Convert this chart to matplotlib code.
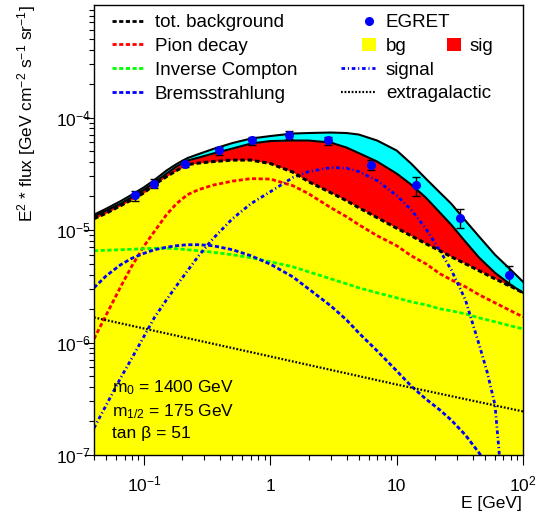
import numpy as np

import matplotlib
matplotlib.use("Agg")  # headless
import matplotlib.pyplot as plt
from matplotlib.lines import Line2D
from matplotlib.patches import Patch
from matplotlib.ticker import LogLocator, FuncFormatter, NullFormatter

plt.rcParams["font.family"] = ["Liberation Sans", "DejaVu Sans"]
plt.rcParams["mathtext.fontset"] = "custom"
plt.rcParams["mathtext.rm"] = "Liberation Sans"
plt.rcParams["mathtext.it"] = "Liberation Sans:italic"
plt.rcParams["mathtext.bf"] = "Liberation Sans:bold"
plt.rcParams["mathtext.default"] = "regular"

# --- values (E in GeV, E^2*flux in GeV cm^-2 s^-1 sr^-1)
energy = [0.04, 0.05, 0.065, 0.08, 0.1, 0.12, 0.15, 0.18, 0.22, 0.27, 0.35, 0.5,
          0.7, 1, 1.5, 2, 3, 4, 5, 7, 10, 13, 17, 22, 27, 35, 45, 60, 80, 100]
tot_bg = [1.261e-5, 1.411e-5, 1.646e-5, 1.861e-5, 2.148e-5, 2.532e-5, 2.983e-5,
          3.374e-5, 3.815e-5, 3.934e-5, 4.058e-5, 4.184e-5, 4.184e-5, 3.894e-5,
          3.271e-5, 2.692e-5, 2.148e-5, 1.823e-5, 1.580e-5, 1.287e-5, 1.037e-5,
          8.895e-6, 7.551e-6, 6.54e-6, 5.785e-6, 5.01e-6, 4.34e-6, 3.683e-6,
          3.159e-6, 2.765e-6]
sig_top = [1.327e-5, 1.485e-5, 1.715e-5, 1.960e-5, 2.285e-5, 2.637e-5, 3.171e-5,
           3.662e-5, 4.141e-5, 4.404e-5, 4.780e-5, 5.297e-5, 5.869e-5, 6.176e-5,
           6.240e-5, 6.240e-5, 5.990e-5, 5.407e-5, 4.830e-5, 4.058e-5, 3.171e-5,
           2.532e-5, 1.940e-5, 1.426e-5, 1.115e-5, 7.867e-6, 5.667e-6, 4.166e-6,
           3.258e-6, 2.765e-6]
upper = [1.368e-5, 1.547e-5, 1.805e-5, 2.062e-5, 2.405e-5, 2.777e-5, 3.374e-5,
         3.854e-5, 4.359e-5, 4.732e-5, 5.243e-5, 5.929e-5, 6.501e-5, 6.843e-5,
         7.203e-5, 7.278e-5, 7.352e-5, 7.278e-5, 7.057e-5, 6.240e-5, 5.083e-5,
         3.894e-5, 2.862e-5, 2.148e-5, 1.715e-5, 1.210e-5, 8.716e-6, 6.027e-6,
         4.43e-6, 3.464e-6]
pion = [1.077e-6, 1.761e-6, 3.127e-6, 4.810e-6, 7.248e-6, 9.658e-6, 1.368e-5,
        1.715e-5, 2.062e-5, 2.285e-5, 2.505e-5, 2.720e-5, 2.862e-5, 2.834e-5,
        2.480e-5, 2.105e-5, 1.580e-5, 1.313e-5, 1.115e-5, 8.895e-6, 7.248e-6,
        5.905e-6, 5.01e-6, 4.082e-6, 3.608e-6, 3.127e-6, 2.653e-6, 2.253e-6,
        1.912e-6, 1.690e-6]
inv_compton = [6.54e-6, 6.608e-6, 6.676e-6, 6.745e-6, 6.814e-6, 6.884e-6, 6.884e-6,
               6.814e-6, 6.676e-6, 6.54e-6, 6.343e-6, 6.027e-6, 5.667e-6, 5.222e-6,
               4.712e-6, 4.252e-6, 3.683e-6, 3.325e-6, 3.063e-6, 2.765e-6, 2.495e-6,
               2.298e-6, 2.162e-6, 1.992e-6, 1.912e-6, 1.798e-6, 1.656e-6, 1.526e-6,
               1.405e-6, 1.322e-6]
brems = [3.063e-6, 3.918e-6, 4.909e-6, 5.610e-6, 6.214e-6, 6.676e-6, 7.027e-6,
         7.248e-6, 7.398e-6, 7.398e-6, 7.248e-6, 6.676e-6, 5.905e-6, 4.960e-6,
         3.839e-6, 3.001e-6, 2.118e-6, 1.589e-6, 1.218e-6, 8.418e-7, 5.587e-7,
         4.107e-7, 3.147e-7, 2.51e-7, 2.046e-7, 1.504e-7, 1.040e-7, 6.634e-8,
         4.645e-8, 3.278e-8]

sig_energy = [0.04, 0.05, 0.065, 0.08, 0.1, 0.12, 0.15, 0.18, 0.22, 0.27, 0.35, 0.5,
              0.7, 1, 1.5, 2, 3, 4, 5, 7, 10, 13, 17, 22, 27, 35, 45, 52, 60, 64.5,
              69.4]
signal = [1.736e-7, 2.782e-7, 4.838e-7, 7.294e-7, 1.145e-6, 1.656e-6, 2.395e-6,
          3.192e-6, 4.34e-6, 5.905e-6, 8.367e-6, 1.261e-5, 1.715e-5, 2.193e-5,
          2.922e-5, 3.304e-5, 3.587e-5, 3.550e-5, 3.304e-5, 2.748e-5, 2.020e-5,
          1.516e-5, 1.027e-5, 6.54e-6, 4.43e-6, 2.395e-6, 9.519e-7, 5.472e-7,
          2.782e-7, 1.106e-7, 3.968e-8]

eg_energy = [0.04, 1, 10, 100]
extragal = [1.67e-6, 7.51e-7, 4.23e-7, 2.44e-7]

egret_e = [0.085, 0.12, 0.21, 0.39, 0.71, 1.41, 2.83, 6.3, 14.1, 31.6, 77]
egret_flux = [2.03e-5, 2.59e-5, 3.90e-5, 5.09e-5, 6.25e-5, 7.06e-5, 6.25e-5,
              3.82e-5, 2.49e-5, 1.29e-5, 4.02e-6]
egret_rel_err = [0.10, 0.09, 0.07, 0.08, 0.08, 0.08, 0.08, 0.10, 0.20, 0.20, 0.20]

params = [r"m$_0$ = 1400 GeV", r"m$_{1/2}$ = 175 GeV", "tan β = 51"]

# ROOT-ish colours / styles
YELLOW, RED, CYAN = "#ffff00", "#ff0000", "#00ffff"
GREEN, BLUE = "#00ff00", "#0000ff"
DASH = (0, (1.5, 0.9))
DASHDOT = (0, (1.3, 1.0, 0.4, 1.0))
DOT = (0, (0.8, 0.8))

fig = plt.figure(figsize=(5.41, 5.20), dpi=100)
ax = fig.add_axes([94 / 541, 65 / 520, 429 / 541, 450 / 520])
ax.set_xscale("log")
ax.set_yscale("log")
ax.set_xlim(0.04, 100)
ax.set_ylim(1e-7, 1e-3)

# bands
ax.fill_between(energy, 1e-9, tot_bg, color=YELLOW, lw=0, zorder=1)
ax.fill_between(energy, tot_bg, sig_top, color=RED, lw=0, zorder=1)
ax.fill_between(energy, sig_top, upper, color=CYAN, lw=0, zorder=1)
ax.plot(energy, sig_top, color="black", lw=1.5, zorder=3)
ax.plot(energy, upper, color="black", lw=1.5, zorder=3)

# components
ax.plot(energy, pion, color=RED, lw=2, ls=DASH, zorder=2)
ax.plot(energy, inv_compton, color=GREEN, lw=2, ls=DASH, zorder=2)
ax.plot(energy, brems, color=BLUE, lw=2, ls=DASH, zorder=2)
ax.plot(sig_energy, signal, color=BLUE, lw=2, ls=DASHDOT, zorder=2)
ax.plot(eg_energy, extragal, color="black", lw=1.6, ls=DOT, zorder=2)
ax.plot(energy, tot_bg, color="black", lw=2.2, ls=DASH, zorder=3)

# EGRET data
yerr = np.asarray(egret_flux) * np.asarray(egret_rel_err)
ax.errorbar(egret_e, egret_flux, yerr=yerr, fmt="o", color=BLUE, ms=5.5,
            ecolor="black", elinewidth=1, capsize=3, capthick=1, zorder=5)

for txt, yb in zip(params, [0.14, 0.0867, 0.0378]):
    ax.text(0.042, yb, txt, transform=ax.transAxes, fontsize=12.5, va="baseline")

# axes / ticks
def _pow10(v, pos):
    n = int(round(np.log10(v)))
    if n == 0:
        return "1"
    if n == 1:
        return "10"
    return r"$10^{%d}$" % n

ax.set_xticks([0.1, 1, 10, 100])
ax.set_yticks([1e-7, 1e-6, 1e-5, 1e-4])
for axis in (ax.xaxis, ax.yaxis):
    axis.set_minor_locator(LogLocator(base=10, subs=np.arange(2, 10), numticks=20))
    axis.set_minor_formatter(NullFormatter())
    axis.set_major_formatter(FuncFormatter(_pow10))
ax.tick_params(which="both", direction="out", top=False, right=False, width=0.8,
               labelsize=12.5)
ax.tick_params(which="major", length=7.2)
ax.tick_params(which="minor", length=3.6)
ax.tick_params(axis="x", which="major", pad=19)
ax.tick_params(axis="y", which="major", pad=-5)
for t in ax.xaxis.get_major_ticks():
    t.label1.set_verticalalignment("baseline")
for sp in ax.spines.values():
    sp.set_linewidth(1)

ax.set_xlabel("E [GeV]", fontsize=12.5, loc="right")
ax.xaxis.set_label_coords(0.998, -0.091)
ax.set_ylabel(r"E$^{2}$ * flux [GeV cm$^{-2}$ s$^{-1}$ sr$^{-1}$]", fontsize=12.5,
              loc="top")
ax.yaxis.set_label_coords(-0.13, 1.0)

# legend, ROOT-style two columns
FS = 13.5
ROW = 23.7  # px between legend rows
TOP = 14.0  # px from the figure top to the first legend row
common = dict(loc="upper left", frameon=False, fontsize=FS, borderpad=0,
              borderaxespad=0, labelspacing=0.36)
col1 = [Line2D([], [], color=c, lw=2, ls=DASH) for c in ("black", RED, GREEN, BLUE)]
fig.legend(col1, ["tot. background", "Pion decay", "Inverse Compton", "Bremsstrahlung"],
           bbox_to_anchor=(112 / 541, 1 - TOP / 520), handlelength=1.76,
           handletextpad=0.53, **common)
col2a = [Line2D([], [], color=BLUE, marker="o", ms=5.5, ls="none"),
         Patch(facecolor=YELLOW, edgecolor="none")]
fig.legend(col2a, ["EGRET", "bg"], bbox_to_anchor=(362 / 541, 1 - TOP / 520),
           handlelength=0.747, handletextpad=0.53, **common)
fig.legend([Patch(facecolor=RED, edgecolor="none")], ["sig"],
           bbox_to_anchor=(447 / 541, 1 - (TOP + ROW) / 520), handlelength=0.747,
           handletextpad=0.48, **common)
col2b = [Line2D([], [], color=BLUE, lw=2, ls=DASHDOT),
         Line2D([], [], color="black", lw=1.6, ls=DOT)]
fig.legend(col2b, ["signal", "extragalactic"],
           bbox_to_anchor=(341 / 541, 1 - (TOP + 2 * ROW) / 520), handlelength=1.81,
           handletextpad=0.59, **common)

fig.savefig("out.png", dpi=100)
